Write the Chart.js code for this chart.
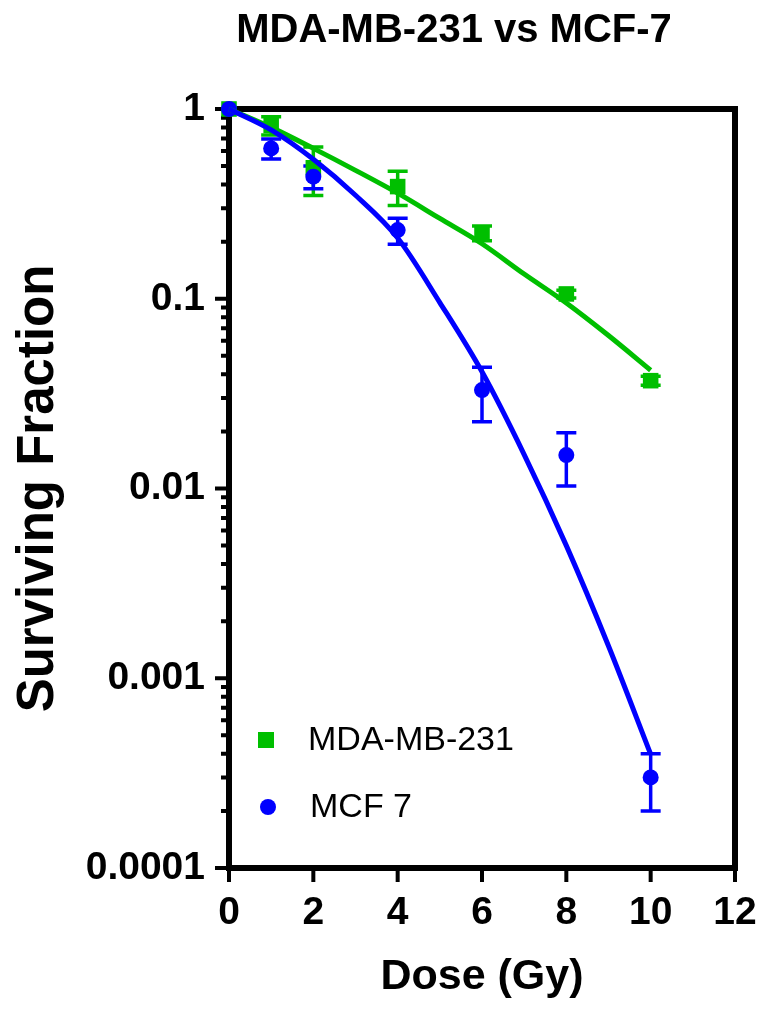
<!DOCTYPE html>
<html>
<head>
<meta charset="utf-8">
<script src="https://cdn.jsdelivr.net/npm/chart.js@4.4.0/dist/chart.umd.min.js"></script>
<style>
  html, body { margin: 0; padding: 0; background: #fff; }
</style>
</head>
<body>
<canvas id="survivalChart" width="761" height="1010"></canvas>
<script>
// measured points (dose in Gy, surviving fraction, SEM)
const doses = [0, 1, 2, 4, 6, 8, 10];
const mdaSF = [1, 0.82, 0.49, 0.39, 0.222, 0.106, 0.037];
const mdaSEM = [0, 0.09, 0.14, 0.08, 0.02, 0.005, 0.002];
const mcfSF = [1, 0.62, 0.44, 0.23, 0.033, 0.015, 0.0003];
const mcfSEM = [0, 0.075, 0.06, 0.036, 0.0105, 0.0047, 0.0001];

// fitted curves
const fitDoses = [0, 1, 2, 3, 4, 5, 6, 7, 8, 9, 10];
const mdaFit = [1, 0.80, 0.62, 0.475, 0.36, 0.265, 0.195, 0.135, 0.095, 0.064, 0.042];
const mcfFit = [1, 0.776, 0.543, 0.351, 0.209, 0.0955, 0.0412, 0.0151, 0.005, 0.00148, 0.000398];

const xTicks = [0, 2, 4, 6, 8, 10, 12];
const yTicks = [0.0001, 0.001, 0.01, 0.1, 1];
const yTickLabels = ["0.0001", "0.001", "0.01", "0.1", "1"];

const green = "#00BF00";
const blue = "#0000FF";
const font = "'Liberation Sans', Arial, sans-serif";

function toPoints(xs, ys) {
    return xs.map((x, i) => ({ x: x, y: ys[i] }));
}

const frame = {
    id: "frame",
    beforeDatasetsDraw(chart) {
        const { ctx, chartArea: a, scales } = chart;
        ctx.save();
        ctx.strokeStyle = "#000";
        ctx.lineWidth = 6;
        ctx.strokeRect(a.left, a.top, a.right - a.left, a.bottom - a.top);

        // y ticks, major and minor
        ctx.lineWidth = 4;
        ctx.beginPath();
        yTicks.forEach((v, i) => {
            const y = scales.y.getPixelForValue(v);
            ctx.moveTo(a.left - 14, y);
            ctx.lineTo(a.left, y);
            if (i < yTicks.length - 1) {
                for (let k = 2; k <= 9; k++) {
                    const ym = scales.y.getPixelForValue(v * k);
                    ctx.moveTo(a.left - 8, ym);
                    ctx.lineTo(a.left, ym);
                }
            }
        });
        // x ticks
        xTicks.forEach((v) => {
            const x = scales.x.getPixelForValue(v);
            ctx.moveTo(x, a.bottom);
            ctx.lineTo(x, a.bottom + 14);
        });
        ctx.stroke();

        // error bars
        const bars = [
            { sf: mdaSF, sem: mdaSEM, color: green },
            { sf: mcfSF, sem: mcfSEM, color: blue },
        ];
        bars.forEach((b) => {
            ctx.strokeStyle = b.color;
            ctx.lineWidth = 3.5;
            doses.forEach((d, i) => {
                if (!b.sem[i]) return;
                const x = scales.x.getPixelForValue(d);
                const yHi = scales.y.getPixelForValue(b.sf[i] + b.sem[i]);
                const yLo = scales.y.getPixelForValue(b.sf[i] - b.sem[i]);
                ctx.beginPath();
                ctx.moveTo(x, yHi);
                ctx.lineTo(x, yLo);
                ctx.moveTo(x - 10, yHi);
                ctx.lineTo(x + 10, yHi);
                ctx.moveTo(x - 10, yLo);
                ctx.lineTo(x + 10, yLo);
                ctx.stroke();
            });
        });
        ctx.restore();
    },
    afterDraw(chart) {
        const { ctx, chartArea: a } = chart;
        ctx.save();
        ctx.fillStyle = "#000";
        ctx.font = "bold 40px " + font;
        ctx.textAlign = "center";
        ctx.textBaseline = "alphabetic";
        ctx.fillText("MDA-MB-231 vs MCF-7", 454, 42);

        // legend inside the plot, lower left
        ctx.font = "34px " + font;
        ctx.textAlign = "left";
        ctx.textBaseline = "middle";
        const lx = a.left + 37;
        const ly1 = a.bottom - 128;
        const ly2 = a.bottom - 61;
        ctx.fillStyle = green;
        ctx.fillRect(lx - 8, ly1 - 8, 16, 16);
        ctx.fillStyle = blue;
        ctx.beginPath();
        ctx.arc(lx + 2, ly2, 8, 0, Math.PI * 2);
        ctx.fill();
        ctx.fillStyle = "#000";
        ctx.fillText(chart.data.datasets[3].label, a.left + 79, ly1 + 1);
        ctx.fillText(chart.data.datasets[2].label, a.left + 81, ly2 + 1);
        ctx.restore();
    },
};

const ctx = document.getElementById("survivalChart").getContext("2d");
const survivalChart = new Chart(ctx, {
    type: "scatter",
    data: {
        datasets: [
            {
                label: "MCF 7 fit",
                data: toPoints(fitDoses, mcfFit),
                showLine: true,
                borderColor: blue,
                borderWidth: 5,
                pointRadius: 0,
                cubicInterpolationMode: "monotone",
                clip: false,
            },
            {
                label: "MDA-MB-231 fit",
                data: toPoints(fitDoses, mdaFit),
                showLine: true,
                borderColor: green,
                borderWidth: 5,
                pointRadius: 0,
                cubicInterpolationMode: "monotone",
                clip: false,
            },
            {
                label: "MCF 7",
                data: toPoints(doses, mcfSF),
                pointStyle: "circle",
                pointRadius: 8,
                backgroundColor: blue,
                borderColor: blue,
                borderWidth: 0,
                clip: false,
            },
            {
                label: "MDA-MB-231",
                data: toPoints(doses, mdaSF),
                pointStyle: "rect",
                pointRadius: 11,
                backgroundColor: green,
                borderColor: green,
                borderWidth: 0,
                clip: false,
            },
        ],
    },
    options: {
        responsive: false,
        devicePixelRatio: 1,
        animation: false,
        events: [],
        layout: { padding: { top: 109, right: 26, left: 0, bottom: 0 } },
        plugins: {
            legend: { display: false },
            title: { display: false },
            tooltip: { enabled: false },
        },
        scales: {
            x: {
                type: "linear",
                min: 0,
                max: 12,
                afterBuildTicks: (scale) => {
                    scale.ticks = xTicks.map((v) => ({ value: v }));
                },
                afterFit: (scale) => {
                    scale.height = 142;
                    scale.paddingLeft = 0;
                    scale.paddingRight = 0;
                },
                grid: { display: false, drawTicks: false },
                border: { display: false },
                ticks: {
                    color: "#000",
                    font: { family: font, size: 39, weight: "bold" },
                    padding: 22,
                    maxRotation: 0,
                    autoSkip: false,
                },
                title: {
                    display: true,
                    text: "Dose (Gy)",
                    color: "#000",
                    font: { family: font, size: 43, weight: "bold" },
                    padding: { top: 0, bottom: 7 },
                },
            },
            y: {
                type: "logarithmic",
                min: 0.0001,
                max: 1,
                afterBuildTicks: (scale) => {
                    scale.ticks = yTicks.map((v) => ({ value: v }));
                },
                afterFit: (scale) => {
                    scale.width = 229;
                    scale.paddingTop = 0;
                    scale.paddingBottom = 0;
                },
                grid: { display: false, drawTicks: false },
                border: { display: false },
                ticks: {
                    color: "#000",
                    font: { family: font, size: 39, weight: "bold" },
                    padding: 24,
                    autoSkip: false,
                    callback: (value, index) => yTickLabels[index],
                },
                title: {
                    display: true,
                    text: "Surviving Fraction",
                    color: "#000",
                    font: { family: font, size: 51, weight: "bold" },
                    padding: { top: 8, bottom: 0 },
                },
            },
        },
    },
    plugins: [frame],
});
</script>
</body>
</html>
